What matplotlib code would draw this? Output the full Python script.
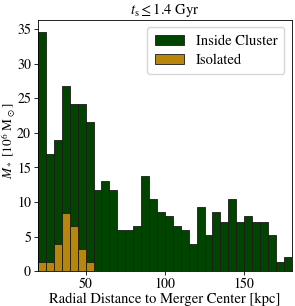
import numpy as np
import matplotlib
matplotlib.use('Agg')
import matplotlib.pyplot as plt

plt.rcParams['font.family'] = ['STIXGeneral', 'DejaVu Serif']
plt.rcParams['mathtext.fontset'] = 'stix'

# radial bins in kpc (5 kpc wide, 20 -> 180)
bin_edges = np.arange(20, 185, 5)

# stellar mass per bin [1e6 Msun]
inside_mass = [34.6, 17.0, 18.9, 26.7, 24.1, 24.1, 21.5, 11.8,
               13.1, 11.8, 5.9, 5.9, 6.55, 13.7, 10.5, 8.5,
               7.9, 6.55, 5.9, 3.95, 9.2, 5.25, 8.5, 7.1,
               10.5, 7.1, 7.9, 7.1, 7.1, 5.25, 1.35, 2.0]
isolated_mass = [1.3, 1.3, 3.9, 8.4, 6.5, 3.2, 1.3, 0,
                 0, 0, 0, 0, 0, 0, 0, 0,
                 0, 0, 0, 0, 0, 0, 0, 0,
                 0, 0, 0, 0, 0, 0, 0, 0]

centers = 0.5 * (bin_edges[:-1] + bin_edges[1:])

fig = plt.figure(figsize=(2.95, 3.06), dpi=100)
ax = fig.add_axes([0.129, 0.114, 0.86, 0.821])

ax.hist(centers, bins=bin_edges, weights=inside_mass, color='#004400',
        edgecolor='#1a1a1a', linewidth=0.6, label='Inside Cluster')
ax.hist(centers, bins=bin_edges, weights=isolated_mass, color='#b8860b',
        edgecolor='#1a1a1a', linewidth=0.6, label='Isolated')

fs = 10.5
ax.set_xlim(20, 180)
ax.set_ylim(0, max(inside_mass) * 1.05)
ax.set_xticks([50, 100, 150])
ax.set_yticks(np.arange(0, 36, 5))
ax.tick_params(labelsize=10, length=3, width=0.6, pad=2)
for s in ax.spines.values():
    s.set_linewidth(0.6)

ax.set_xlabel('Radial Distance to Merger Center [kpc]', fontsize=fs, labelpad=1)
ax.set_ylabel(r'$M_*\ [10^6\ {\rm M}_\odot]$', fontsize=9.5)
ax.yaxis.set_label_coords(-0.08, 0.52)
ax.set_title(r'$t_{\rm s} \leq 1.4$ Gyr', fontsize=fs, pad=4)

ax.legend(loc='upper right', fontsize=fs, handlelength=2.0, borderpad=0.5,
          labelspacing=0.4, handletextpad=0.8, borderaxespad=0.5)

fig.savefig('out.png', dpi=100)
